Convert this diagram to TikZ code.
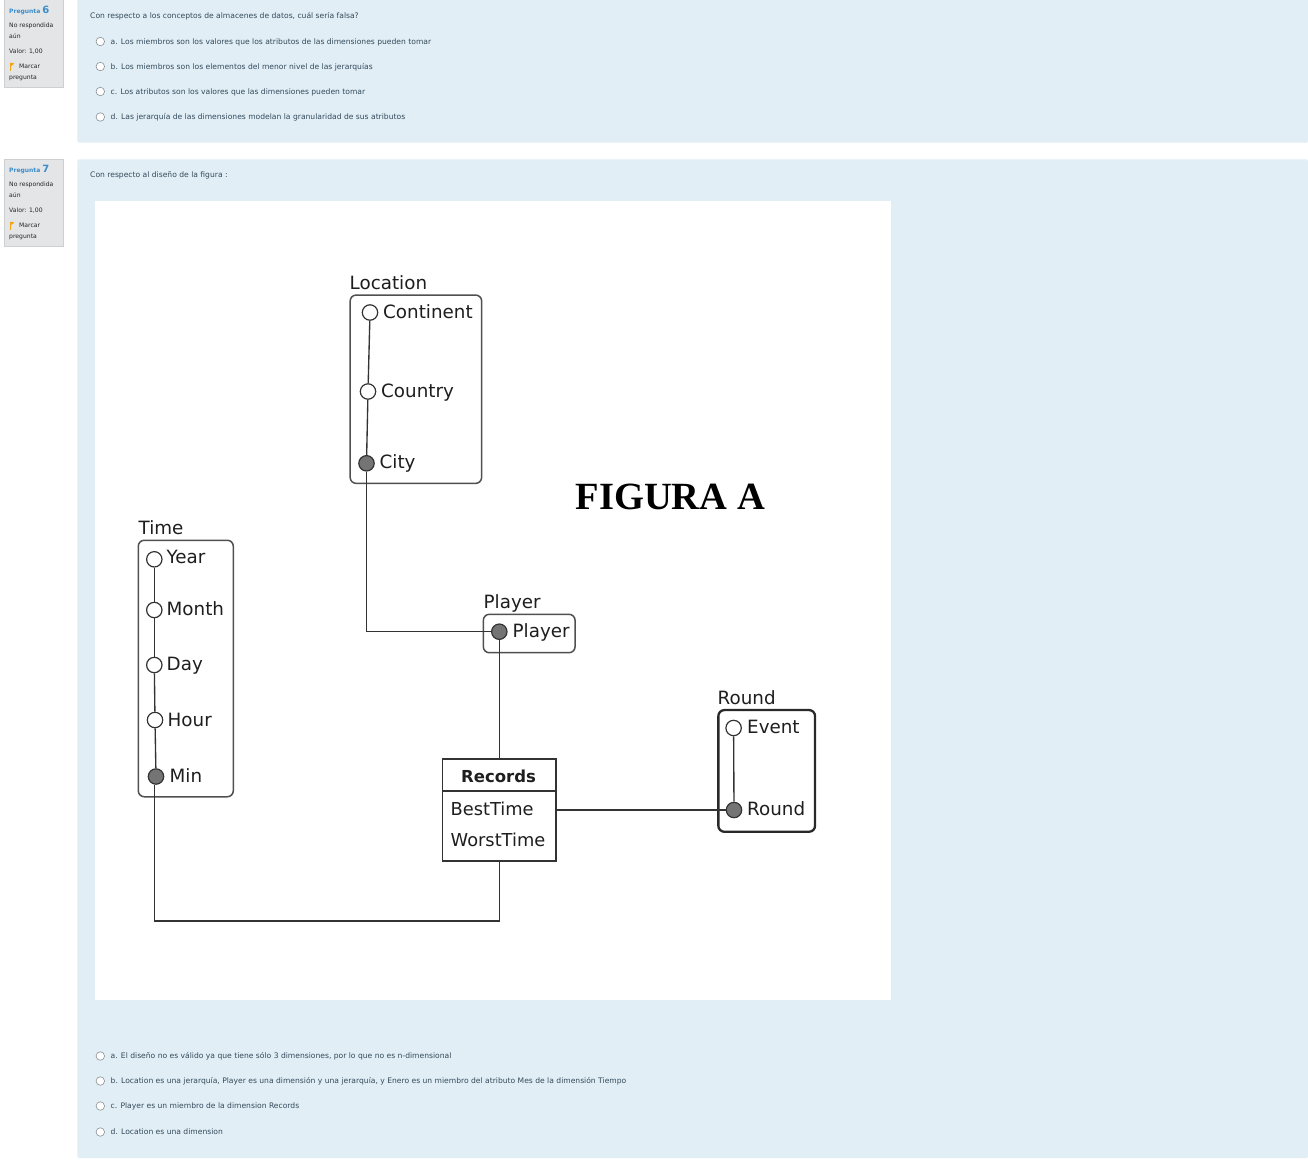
\documentclass[tikz,border=0pt]{standalone}
\usepackage{fontspec}
\setmainfont{DejaVu Sans}
\newfontfamily\figfont{Liberation Serif}
\usetikzlibrary{calc}
\definecolor{panelc}{HTML}{E1EEF6}
\definecolor{sidec}{HTML}{E4E5E7}
\definecolor{sidebd}{HTML}{CDCFD1}
\definecolor{txtc}{HTML}{33495A}
\definecolor{bluec}{HTML}{3A8DCB}
\definecolor{radioc}{HTML}{8A8F93}
\definecolor{linec}{HTML}{333333}
\definecolor{boxc}{HTML}{505050}
\definecolor{fillc}{HTML}{747474}
\definecolor{flagc}{HTML}{F2A516}
\definecolor{dtxt}{HTML}{1E1E1E}
\begin{document}
\begin{tikzpicture}[x=1pt,y=-1pt,
  webtxt/.style={anchor=base west, inner sep=0, text=txtc, font=\fontsize{7.6}{8.5}\selectfont},
  sidetxt/.style={anchor=base west, inner sep=0, text=black!85, font=\fontsize{6.1}{7}\selectfont},
  pregtxt/.style={anchor=base west, inner sep=0, text=bluec, font=\bfseries\fontsize{6}{7}\selectfont},
  radio/.style={circle, draw=radioc, fill=white, line width=0.6pt, minimum size=8.5pt, inner sep=0},
  sidebox/.style={draw=sidebd, fill=sidec, line width=0.6pt},
  panel/.style={fill=panelc, rounded corners=2pt},
  dimbox/.style={draw=boxc, rounded corners=6pt, line width=1.5pt, inner sep=0},
  lvl/.style={circle, draw=linec, fill=white, line width=1.2pt, minimum size=15.4pt, inner sep=0},
  lvlf/.style={lvl, fill=fillc},
  dlab/.style={anchor=base west, inner sep=0, text=dtxt, font=\fontsize{18.3}{20}\selectfont},
  conn/.style={draw=linec, line width=1.35pt},
  flag/.style={fill=flagc}
]
\useasboundingbox (0,0) rectangle (1308,1162);
\fill[white] (0,0) rectangle (1308,1162);

% ---------- panels ----------
\fill[panel] (77.3,-3) rectangle (1308,142.7);
\fill[panel] (77.3,159.3) rectangle (1308,1158);
\draw[sidebox] (4,-2) rectangle (63.3,87.3);
\draw[sidebox] (4,159.3) rectangle (63.3,246.5);

% ---------- sidebar 6 ----------
\node[pregtxt] (p6) at (9,13) {Pregunta {\fontsize{10}{11}\selectfont 6}};
\node[sidetxt] (p6n) at (9,27.5) {No respondida};
\node[sidetxt] (p6a) at (9,38.5) {aún};
\node[sidetxt] (p6v) at (9,53.5) {Valor: 1,00};
\draw[flagc, line width=0.8pt] (10.5,62.5) -- (10.5,71);
\fill[flag] (10.5,62.5) -- (14.5,63.5) -- (10.5,66.5) -- cycle;
\node[sidetxt] (p6m) at (19,68.5) {Marcar};
\node[sidetxt] (p6p) at (9,79.5) {pregunta};

% ---------- sidebar 7 ----------
\node[pregtxt] (p7) at (9,172) {Pregunta {\fontsize{10}{11}\selectfont 7}};
\node[sidetxt] (p7n) at (9,186.5) {No respondida};
\node[sidetxt] (p7a) at (9,197.5) {aún};
\node[sidetxt] (p7v) at (9,212.5) {Valor: 1,00};
\draw[flagc, line width=0.8pt] (10.5,221.5) -- (10.5,230);
\fill[flag] (10.5,221.5) -- (14.5,222.5) -- (10.5,225.5) -- cycle;
\node[sidetxt] (p7m) at (19,227.5) {Marcar};
\node[sidetxt] (p7p) at (9,238.5) {pregunta};

% ---------- question 6 ----------
\node[webtxt] (q6) at (90,18) {Con respecto a los conceptos de almacenes de datos, cuál sería falsa?};
\node[radio] (r6a) at (100.3,41.5) {};
\node[webtxt] (o6a) at (110.5,44.3) {a. Los miembros son los valores que los atributos de las dimensiones pueden tomar};
\node[radio] (r6b) at (100.3,66.5) {};
\node[webtxt] (o6b) at (110.5,69.3) {b. Los miembros son los elementos del menor nivel de las jerarquías};
\node[radio] (r6c) at (100.3,91.5) {};
\node[webtxt] (o6c) at (110.5,94.3) {c. Los atributos son los valores que las dimensiones pueden tomar};
\node[radio] (r6d) at (100.3,117) {};
\node[webtxt] (o6d) at (110.5,119.8) {d. Las jerarquía de las dimensiones modelan la granularidad de sus atributos};

% ---------- question 7 ----------
\node[webtxt] (q7) at (90,177) {Con respecto al diseño de la figura :};
\fill[white] (95,201) rectangle (890.5,999.5);

\node[radio] (r7a) at (100.3,1056) {};
\node[webtxt] (o7a) at (110.5,1058.8) {a. El diseño no es válido ya que tiene sólo 3 dimensiones, por lo que no es n-dimensional};
\node[radio] (r7b) at (100.3,1081) {};
\node[webtxt] (o7b) at (110.5,1083.8) {b. Location es una jerarquía, Player es una dimensión y una jerarquía, y Enero es un miembro del atributo Mes de la dimensión Tiempo};
\node[radio] (r7c) at (100.3,1106) {};
\node[webtxt] (o7c) at (110.5,1108.8) {c. Player es un miembro de la dimension Records};
\node[radio] (r7d) at (100.3,1132) {};
\node[webtxt] (o7d) at (110.5,1134.8) {d. Location es una dimension};

% ---------- FIGURA A ----------
\node[anchor=base west, inner sep=0, font=\figfont\bfseries\fontsize{38.5}{40}\selectfont] (fig) at (575.5,509) {FIGURA A};

% ---------- Location ----------
\node[dlab] (locL) at (349.5,289) {Location};
\node[dimbox, minimum width=131.5pt, minimum height=188.3pt] (locbox) at (415.9,389.2) {};
\node[lvl] (cont) at (370,312.5) {};
\node[lvl] (ctry) at (368,391.5) {};
\node[lvlf] (city) at (366.5,463.3) {};
\draw[conn] (cont) -- (ctry);
\draw[conn] (ctry) -- (city);
\node[dlab] (contT) at (383,318.5) {Continent};
\node[dlab] (ctryT) at (381,397) {Country};
\node[dlab] (cityT) at (379.5,468.5) {City};

% ---------- Time ----------
\node[dlab] (timeL) at (138.5,534) {Time};
\node[dimbox, minimum width=95pt, minimum height=256.5pt] (timebox) at (185.8,668.5) {};
\node[lvl] (ty) at (154.3,559.3) {};
\node[lvl] (tmo) at (154.3,610) {};
\node[lvl] (td) at (154.3,665) {};
\node[lvl] (th) at (155,720) {};
\node[lvlf] (tmin) at (156,776.5) {};
\draw[conn] (ty) -- (tmo);
\draw[conn] (tmo) -- (td);
\draw[conn] (td) -- (th);
\draw[conn] (th) -- (tmin);
\node[dlab] (tyT) at (166.5,563.5) {Year};
\node[dlab] (tmoT) at (166.5,615) {Month};
\node[dlab] (tdT) at (166.5,670) {Day};
\node[dlab] (thT) at (167.5,726) {Hour};
\node[dlab] (tminT) at (169.5,782) {Min};

% ---------- Player ----------
\node[dlab] (plL) at (483.5,608.5) {Player};
\node[dimbox, minimum width=91.7pt, minimum height=38.4pt] (plbox) at (529.2,633.5) {};
\node[lvlf] (pl) at (499.3,631.7) {};
\node[dlab] (plT) at (512.5,637) {Player};

% ---------- Round ----------
\node[dlab] (rdL) at (717.5,704.5) {Round};
\node[dimbox, draw=linec!80!black, line width=2.3pt, minimum width=96.7pt, minimum height=121.7pt] (rdbox) at (766.7,770.9) {};
\node[lvl] (ev) at (733.6,728) {};
\node[lvlf] (rnd) at (734,810) {};
\draw[conn] (ev) -- (rnd);
\node[dlab] (evT) at (747,733.5) {Event};
\node[dlab] (rndT) at (747,815.3) {Round};

% ---------- Records ----------
\node[draw=linec, line width=1.4pt, fill=white, minimum width=113.3pt, minimum height=102pt, inner sep=0] (rec) at (499.3,810) {};
\draw[linec, line width=1.3pt] ($(rec.north west)+(0,32.7)$) -- ($(rec.north east)+(0,32.7)$);
\node[anchor=base, inner sep=0, text=dtxt, font=\bfseries\fontsize{16.5}{18}\selectfont] (recT) at (498.5,782.5) {Records};
\node[dlab, font=\fontsize{17.8}{19}\selectfont] (recB) at (450.5,815) {BestTime};
\node[dlab, font=\fontsize{17.8}{19}\selectfont] (recW) at (450.5,846) {WorstTime};

% ---------- connectors ----------
\draw[conn] (city) |- (pl);
\draw[conn] (pl) -- (rec.north);
\draw[conn] (rnd) -- (rnd -| rec.east);
\coordinate (bot) at (154.5,921);
\draw[conn] (tmin.south -| bot) -- (bot) -| (rec.south);
\end{tikzpicture}
\end{document}
